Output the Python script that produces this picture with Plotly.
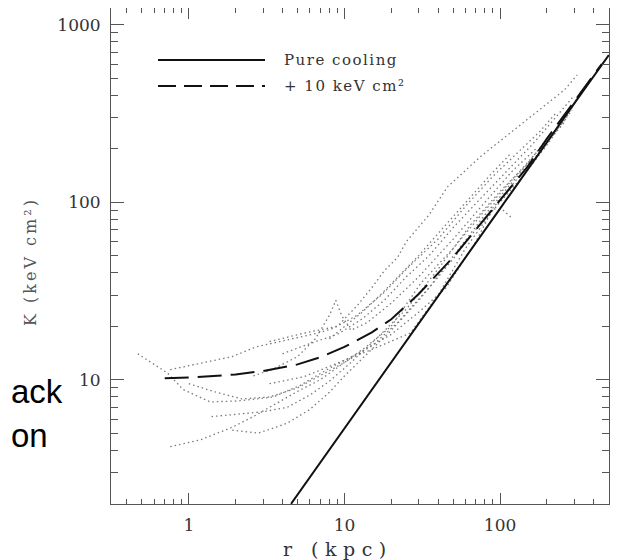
import plotly.graph_objects as go

# ---------------- data ----------------
# model lines
r_cool = [4.54, 10, 30, 100, 300, 500]
K_cool = [2.0, 5.3, 20.8, 92, 360, 675]
r_floor = [0.7, 1, 2, 3, 5, 7, 10, 15, 20, 30, 50, 70, 100, 150, 200, 300, 450]
K_floor = [10.2, 10.3, 10.7, 11.2, 12.2, 13.4, 15.3, 18.5, 21.9, 30.4, 49, 70, 102, 158, 228, 371, 600]

# observed cluster entropy profiles (dotted)
profiles = [
    ([0.47, 0.73, 0.92, 1.37, 2.1, 3.5, 5.2, 8, 12.6, 20, 30, 45, 70, 90, 105, 118],
     [14, 10.9, 8.8, 7.5, 7.6, 8.0, 9.3, 11.6, 14.3, 18, 24, 33, 60, 92, 90, 82]),
    ([0.76, 1.2, 1.9, 2.7, 4.3, 6.7, 8.5, 12, 18, 25, 40, 60, 90, 130, 180, 230],
     [11.4, 12.4, 13.5, 15.3, 16.7, 18.3, 19.5, 23, 31, 42, 62, 95, 140, 190, 250, 320]),
    ([2.6, 3.5, 5, 6.5, 8, 8.8, 9.6, 11, 14, 20, 30, 50, 80, 120, 170],
     [10.5, 11.5, 13.5, 17, 23, 28, 23, 19, 21, 27, 38, 62, 100, 150, 200]),
    ([0.76, 1.2, 1.9, 2.6, 3.5, 5, 7, 10, 15, 22, 35, 55, 80, 120, 160],
     [4.2, 4.6, 5.4, 6.2, 7.2, 8.6, 10, 12.5, 15.5, 21, 33, 55, 85, 130, 175]),
    ([1.4, 2.2, 3, 4.3, 6, 8, 11, 16, 25, 40, 65, 100, 150, 210],
     [6.2, 6.4, 6.6, 7.0, 8.2, 9.8, 12.5, 17, 25, 42, 75, 115, 165, 240]),
    ([1.9, 2.8, 4.3, 6, 8, 10, 14, 20, 30, 50, 80, 120, 200, 290],
     [5.2, 5.0, 5.7, 6.8, 8.5, 10.5, 14, 19, 28, 48, 82, 125, 215, 330]),
    ([3.3, 5.5, 9, 12, 15, 18, 22, 25, 35, 46, 75, 122, 200, 260, 313],
     [16.4, 18.3, 20, 26, 33, 41, 49, 60, 85, 122, 181, 255, 361, 430, 521]),
    ([3.3, 5.5, 9, 14.7, 26.5, 40, 60, 90, 140, 200, 260],
     [9.5, 10.4, 12.4, 14.7, 18.3, 30, 55, 90, 140, 210, 290]),
    ([1.0, 1.5, 2.2, 3.3, 5, 7, 10, 14, 20, 31, 50, 80, 120, 180, 250, 330],
     [9.5, 8.5, 7.8, 8.0, 9, 10.5, 12.5, 15.5, 20, 35, 55, 90, 135, 200, 270, 420]),
    ([4, 6, 9, 13, 18, 25, 35, 50, 75, 110, 160, 220, 300],
     [14, 16, 18, 22, 28, 38, 50, 72, 105, 150, 210, 290, 400]),
    ([8, 10, 13, 17, 22, 30, 42, 60, 85, 115],
     [17, 20, 24, 30, 38, 50, 70, 100, 140, 185]),
]

x_ticks = [1, 10, 100]
x_ticktext = ["1", "10", "100"]
x_minor = [0.4, 0.5, 0.6, 0.7, 0.8, 0.9, 2, 3, 4, 5, 6, 7, 8, 9,
           20, 30, 40, 50, 60, 70, 80, 90, 200, 300, 400, 500]
y_ticks = [10, 100, 1000]
y_ticktext = ["10", "100", "1000"]
y_minor = [3, 4, 5, 6, 7, 8, 9, 20, 30, 40, 50, 60, 70, 80, 90,
           200, 300, 400, 500, 600, 700, 800, 900]

legend_labels = ["Pure cooling", "+ 10 keV cm²"]
x_title = "r (kpc)"
y_title = "K (keV cm²)"
side_text = ["ack", "on"]

# ---------------- figure ----------------
fig = go.Figure()
for rr, kk in profiles:
    fig.add_trace(go.Scatter(x=rr, y=kk, mode="lines", showlegend=False,
                             line=dict(color="#7a7a7a", width=1.3, dash="1.5px,3px"),
                             hoverinfo="skip"))
fig.add_trace(go.Scatter(x=r_cool, y=K_cool, mode="lines", showlegend=False,
                         line=dict(color="#111", width=2)))
fig.add_trace(go.Scatter(x=r_floor, y=K_floor, mode="lines", showlegend=False,
                         line=dict(color="#111", width=2, dash="24px,9px")))

# the page adds an 8px body margin; work in page pixels and convert
OFF = 8
W, H = 612, 552
L, R, T, B = 103, 11, 0, 56
pw, ph = W - L - R, H - T - B


def px(xp):
    return (xp - OFF - L) / pw


def py(yp):
    return (H - B - (yp - OFF)) / ph


axis_common = dict(showgrid=False, zeroline=False, showline=True, linecolor="#555",
                   linewidth=1, mirror="ticks", ticks="inside", tickcolor="#555",
                   tickwidth=1, tickfont=dict(family="DejaVu Serif", size=17, color="#333"))

fig.update_xaxes(type="log", range=[-0.5, 2.7], tickvals=x_ticks, ticktext=x_ticktext,
                 ticklen=11, ticklabelstandoff=6,
                 minor=dict(ticks="inside", ticklen=5, tickvals=x_minor, tickcolor="#555",
                            showgrid=False),
                 **axis_common)
fig.update_yaxes(type="log", range=[0.3, 3.094], tickvals=y_ticks, ticktext=y_ticktext,
                 ticklen=13, ticklabelstandoff=6,
                 minor=dict(ticks="inside", ticklen=7, tickvals=y_minor, tickcolor="#555",
                            showgrid=False),
                 **axis_common)

shapes = [
    dict(type="line", xref="paper", yref="paper", x0=px(158), x1=px(265), y0=py(60), y1=py(60),
         line=dict(color="#111", width=2)),
    dict(type="line", xref="paper", yref="paper", x0=px(158), x1=px(265), y0=py(86), y1=py(86),
         line=dict(color="#111", width=2, dash="18px,8px")),
]

serif = "DejaVu Serif"


def spaced(t, sp):
    return '<span style="letter-spacing:%spx">%s</span>' % (sp, t)


annotations = [
    dict(text=spaced(legend_labels[0], 1.5), x=px(282), y=py(60), xref="paper", yref="paper",
         xanchor="left", yanchor="middle", showarrow=False,
         font=dict(family=serif, size=15, color="#333")),
    dict(text=spaced(legend_labels[1], 1.5), x=px(282), y=py(86), xref="paper", yref="paper",
         xanchor="left", yanchor="middle", showarrow=False,
         font=dict(family=serif, size=15, color="#333")),
    dict(text=spaced(x_title, 6.5), x=px(338), y=py(549), xref="paper", yref="paper",
         xanchor="center", yanchor="middle", showarrow=False,
         font=dict(family=serif, size=19, color="#333")),
    dict(text=spaced(y_title, 3), x=px(30), y=py(262), xref="paper", yref="paper",
         xanchor="center", yanchor="middle", showarrow=False, textangle=-90,
         font=dict(family=serif, size=16, color="#555")),
    dict(text=side_text[0], x=px(9), y=py(391), xref="paper", yref="paper",
         xanchor="left", yanchor="middle", showarrow=False,
         font=dict(family="Liberation Sans", size=33, color="#000")),
    dict(text=side_text[1], x=px(9), y=py(435), xref="paper", yref="paper",
         xanchor="left", yanchor="middle", showarrow=False,
         font=dict(family="Liberation Sans", size=33, color="#000")),
]

fig.update_layout(width=W, height=H, margin=dict(l=L, r=R, t=T, b=B),
                  paper_bgcolor="white", plot_bgcolor="white",
                  shapes=shapes, annotations=annotations, showlegend=False)

fig.write_html("out.html")
